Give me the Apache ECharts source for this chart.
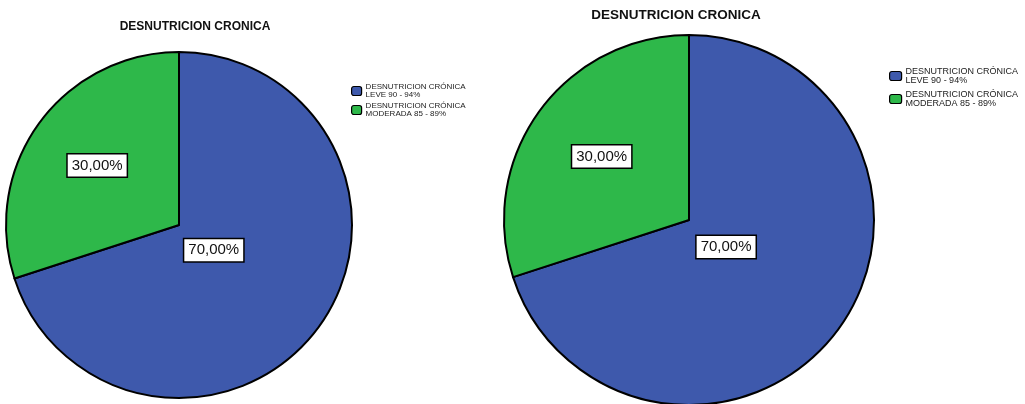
<!DOCTYPE html>
<html>
<head>
<meta charset="utf-8">
<script src="https://cdn.jsdelivr.net/npm/echarts@6/dist/echarts.min.js"></script>
<style>
  html, body { margin: 0; padding: 0; background: #fff; }
  #chart { width: 1025px; height: 404px; }
</style>
</head>
<body>
<div id="chart"></div>
<script>
// Chronic malnutrition by severity, shown in two pie charts
const chartTitle = 'DESNUTRICION CRONICA';
const categories = ['DESNUTRICION CRÓNICA\nLEVE 90 - 94%', 'DESNUTRICION CRÓNICA\nMODERADA 85 - 89%'];
const leftValues = [70, 30];
const rightValues = [70, 30];
const sliceColors = ['#3E59AC', '#2EB84A'];
// how far out from the centre each value label sits, as a share of the radius
const labelRadius = [0.24, 0.565];

const fmt = v => v.toFixed(2).replace('.', ',') + '%';

function pieSeries(values, center, radius) {
  return {
    type: 'pie',
    center: center,
    radius: radius,
    startAngle: 90,
    clockwise: true,
    silent: true,
    data: values.map((v, i) => ({
      name: categories[i],
      value: v,
      itemStyle: { color: sliceColors[i] }
    })),
    itemStyle: { borderColor: '#000', borderWidth: 2 },
    label: {
      show: true,
      position: 'inside',
      formatter: p => fmt(p.value),
      fontFamily: 'Liberation Sans, Arial, sans-serif',
      fontSize: 15,
      color: '#111',
      backgroundColor: '#fff',
      borderColor: '#000',
      borderWidth: 1.5,
      padding: [4, 4, 3, 4]
    },
    labelLine: { show: false },
    emphasis: { disabled: true },
    labelLayout: function (params) {
      const r = params.labelRect;
      const lx = r.x + r.width / 2;
      const ly = r.y + r.height / 2;
      const k = labelRadius[params.dataIndex] / 0.5;
      return {
        x: center[0] + (lx - center[0]) * k,
        y: center[1] + (ly - center[1]) * k,
        align: 'center',
        verticalAlign: 'middle'
      };
    }
  };
}

function legendBlock(left, top, fontSize, itemW, itemH, gap) {
  return {
    orient: 'vertical',
    left: left,
    top: top,
    padding: 0,
    itemWidth: itemW,
    itemHeight: itemH,
    itemGap: gap,
    selectedMode: false,
    icon: 'roundRect',
    itemStyle: { borderColor: '#000', borderWidth: 1.2 },
    textStyle: {
      fontFamily: 'Liberation Sans, Arial, sans-serif',
      fontSize: fontSize,
      lineHeight: fontSize,
      color: '#222',
      padding: [0, 0, 0, -1]
    },
    data: categories
  };
}

const chart = echarts.init(document.getElementById('chart'), null, { renderer: 'canvas' });
chart.setOption({
  backgroundColor: '#fff',
  animation: false,
  title: [
    {
      text: chartTitle,
      left: 195, top: 21, padding: 0, textAlign: 'center',
      textStyle: { fontFamily: 'Liberation Sans, Arial, sans-serif', fontSize: 12, fontWeight: 'bold', color: '#111' }
    },
    {
      text: chartTitle,
      left: 676, top: 8, padding: 0, textAlign: 'center',
      textStyle: { fontFamily: 'Liberation Sans, Arial, sans-serif', fontSize: 13.5, fontWeight: 'bold', color: '#111' }
    }
  ],
  legend: [
    legendBlock(351, 83, 8, 10, 9, 3),
    legendBlock(889, 67, 9, 12, 9, 5)
  ],
  series: [
    pieSeries(leftValues, [179, 225], 173),
    pieSeries(rightValues, [689, 220], 185)
  ]
});
</script>
</body>
</html>
